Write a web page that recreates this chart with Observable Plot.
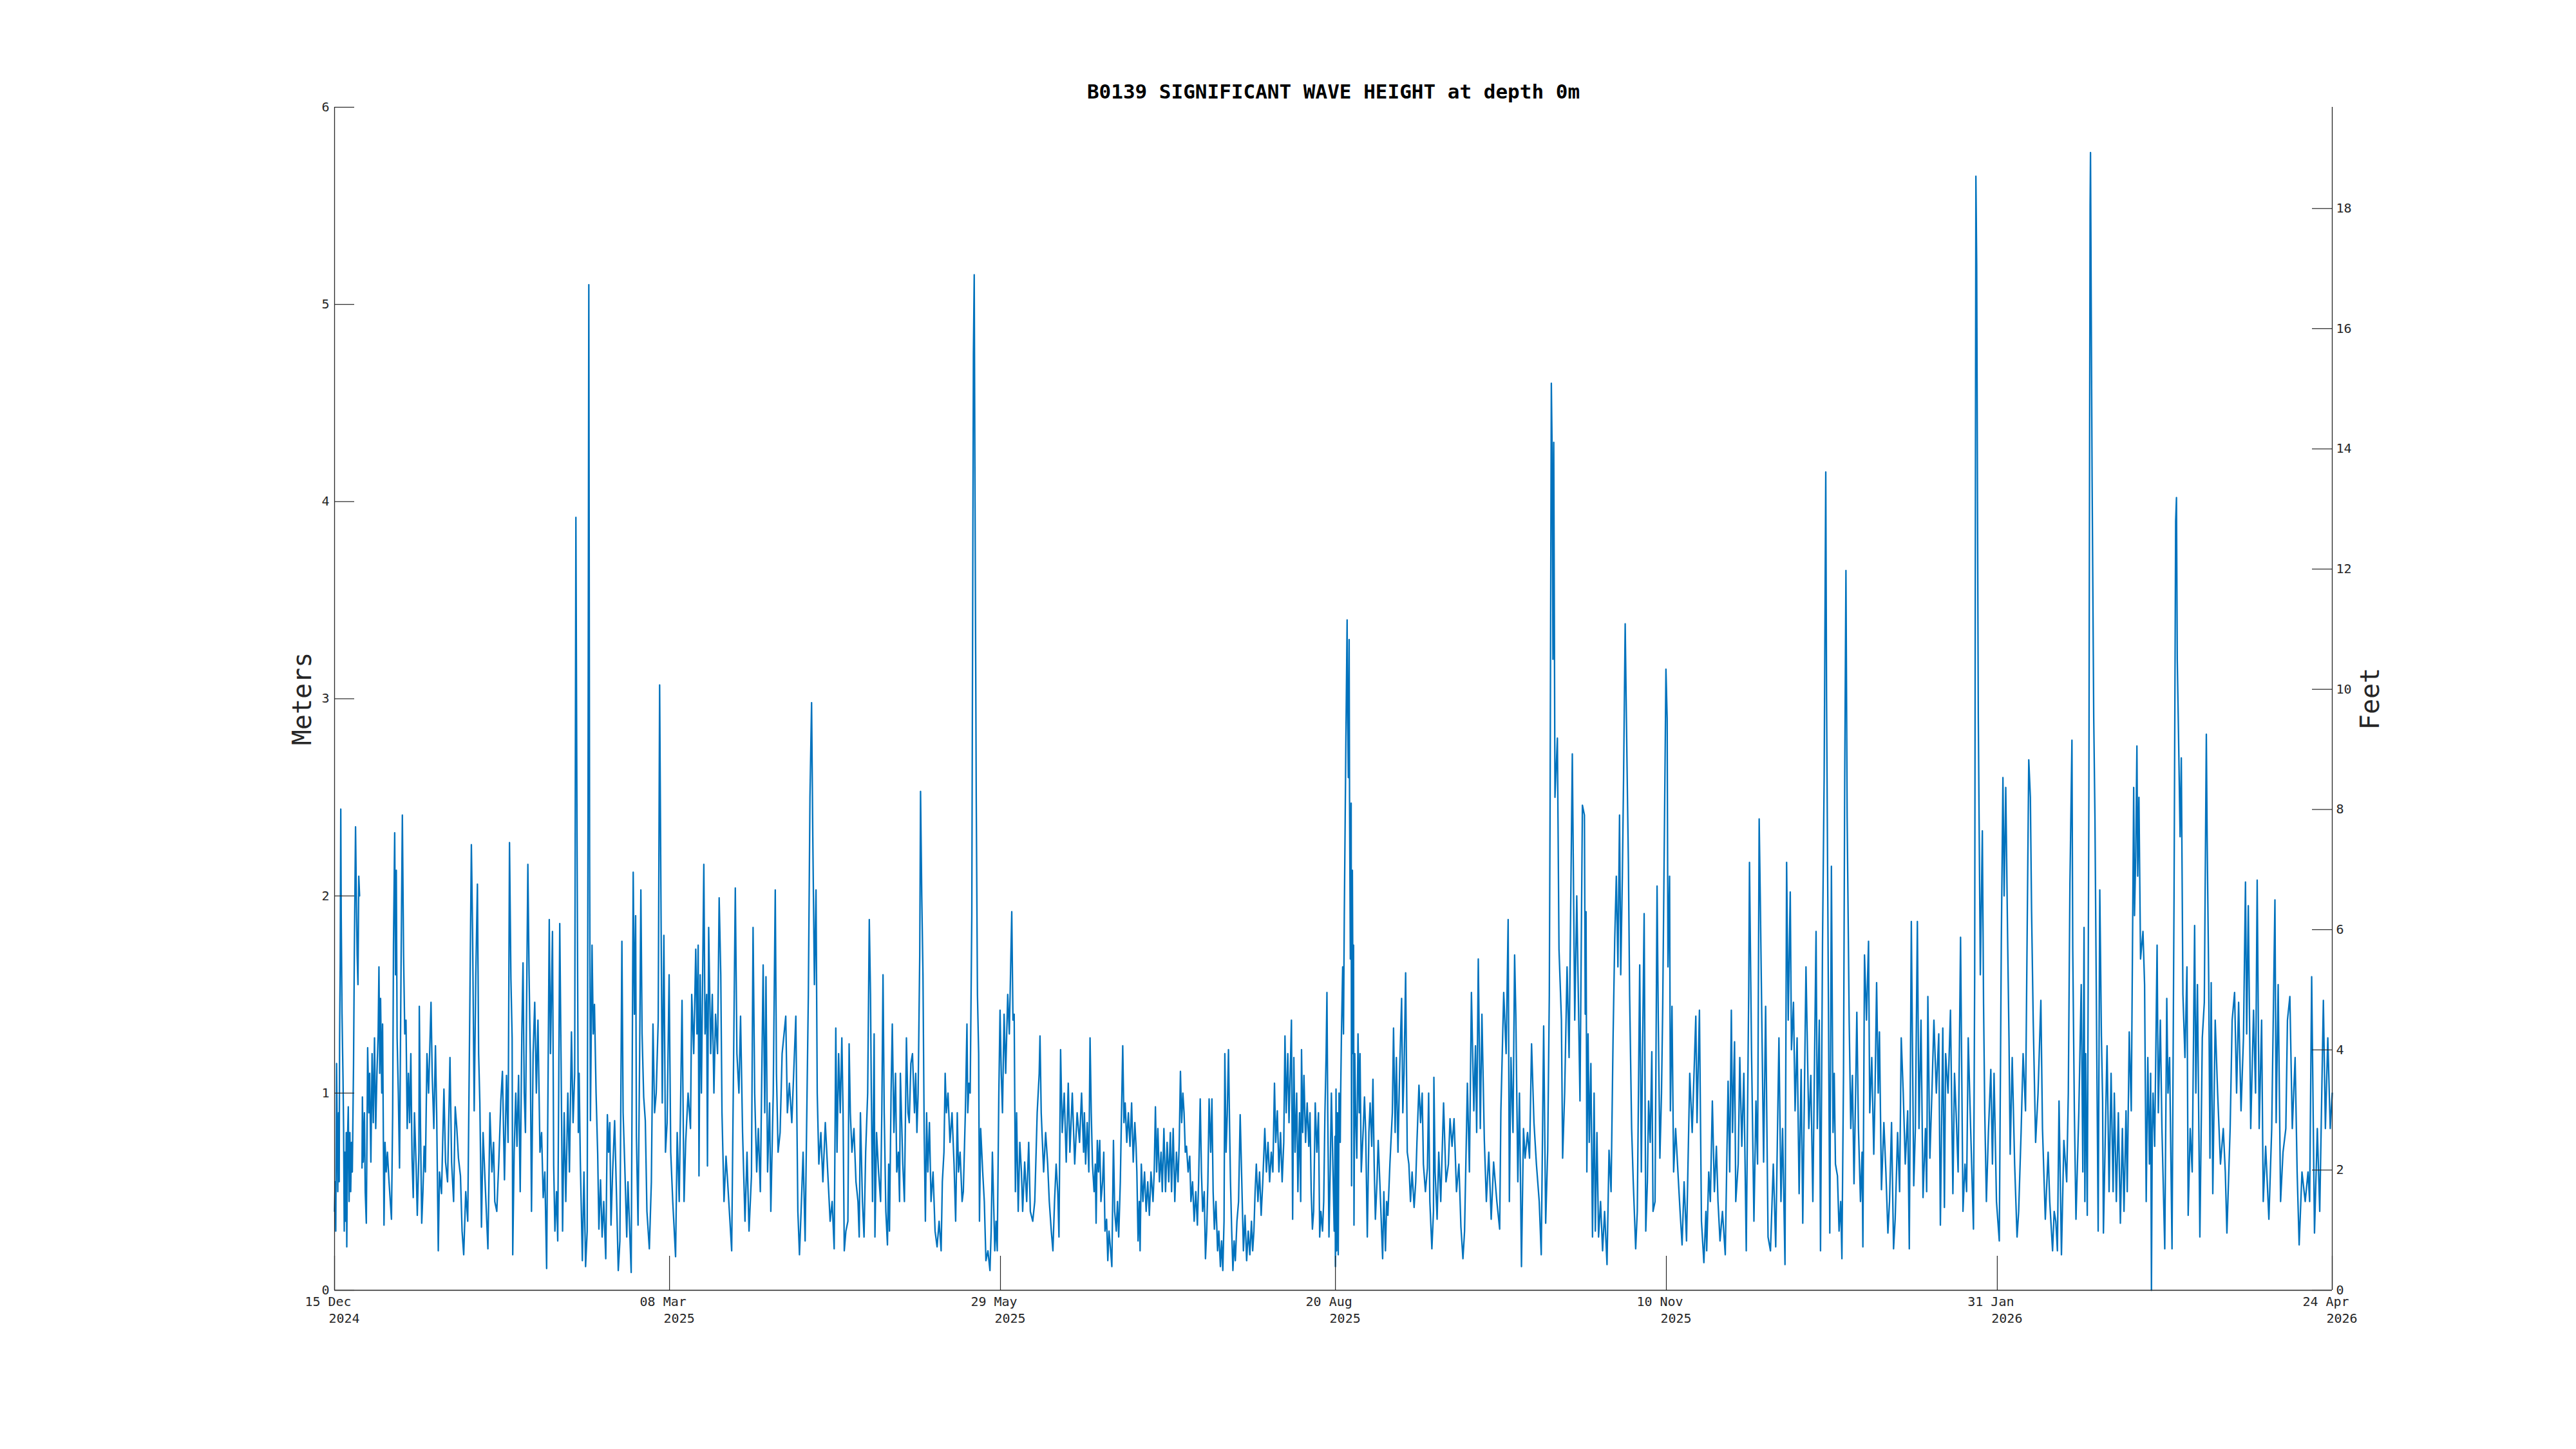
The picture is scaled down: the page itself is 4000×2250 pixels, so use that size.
<!DOCTYPE html>
<html><head><meta charset="utf-8">
<script src="https://cdn.jsdelivr.net/npm/d3@7"></script>
<script src="https://cdn.jsdelivr.net/npm/@observablehq/plot@0.6"></script>
<style>html,body{margin:0;padding:0;background:#fff;} svg{display:block}</style>
</head><body><div id="chart"></div>
<script>
const chartTitle = "B0139 SIGNIFICANT WAVE HEIGHT at depth 0m";
const leftLabel = "Meters";
const rightLabel = "Feet";
const startDate = "2024-12-15";
const endDate = "2026-04-24";
const xTickDates = ["2024-12-15","2025-03-08","2025-05-29","2025-08-20","2025-11-10","2026-01-31","2026-04-24"];
const meterTicks = [0,1,2,3,4,5,6];
const feetTicks = [0,2,4,6,8,10,12,14,16,18];
const metersPerFoot = 0.3048;
// [days since 15 Dec 2024, significant wave height (m)]
const hsSamples = [
[0,0.40],[0.15,0.55],[0.3,0.3],[0.5,1.15],[0.8,0.5],[1.0,0.9],[1.15,0.55],[1.25,1.26],[1.4,1.66],[1.54,2.44],[1.65,1.9],[1.85,1.4],[2.0,1.2],[2.1,1.07],[2.25,0.8],[2.4,0.3],[2.55,0.7],[2.7,0.35],[2.9,0.8],[3.03,0.22],[3.2,0.75],[3.4,0.93],[3.6,0.45],[3.8,0.8],[4.0,0.5],[4.2,0.75],[4.4,0.6],[4.7,1.14],[4.9,1.7],[5.2,2.35],[5.4,2.0],[5.6,1.7],[5.8,1.55],[6.0,2.1],[6.2,2.0],[6.5,NaN],
[6.8,0.62],[6.9,0.98],[7.1,0.65],[7.4,0.9],[7.6,0.5],[7.87,0.34],[8.2,1.23],[8.5,0.9],[8.7,1.1],[9.0,0.65],[9.3,1.2],[9.6,0.85],[9.9,1.28],[10.2,0.82],[10.5,1.1],[10.8,1.3],[11.0,1.64],[11.2,1.1],[11.4,1.48],[11.7,1.0],[11.9,1.35],[12.1,0.75],[12.25,0.33],[12.5,0.75],[12.8,0.6],[13.1,0.7],[13.5,0.55],[14.1,0.36],[14.4,0.9],[14.6,1.75],[14.9,2.32],[15.1,1.6],[15.3,2.13],[15.5,1.28],[15.8,1.0],[16.1,0.62],[16.5,1.7],[16.8,2.41],[17.1,1.7],[17.4,1.3],[17.7,1.37],[18.0,0.82],[18.3,1.1],[18.6,0.85],[18.9,1.2],[19.2,0.67],[19.5,0.47],[19.8,0.9],[20.2,0.64],[20.5,0.38],[20.9,0.7],[21.0,1.44],[21.3,0.82],[21.6,0.34],[21.9,0.5],[22.2,0.73],[22.5,0.6],[22.9,1.2],[23.3,1.0],[23.9,1.46],[24.2,1.09],[24.6,0.82],[25.0,1.24],[25.3,0.9],[25.7,0.2],[26.0,0.6],[26.5,0.49],[27.1,1.02],[27.5,0.65],[28.0,0.55],[28.6,1.18],[29.0,0.65],[29.5,0.45],[29.9,0.93],[30.3,0.82],[30.7,0.67],[31.2,0.58],[31.6,0.3],[32.0,0.18],[32.5,0.5],[33.0,0.35],[33.5,1.4],[33.9,2.26],[34.2,1.82],[34.6,0.91],[35.0,1.6],[35.4,2.06],[35.7,1.2],[36.0,0.95],[36.4,0.32],[36.8,0.8],[37.3,0.55],[38.0,0.21],[38.5,0.9],[39.0,0.6],[39.4,0.75],[39.7,0.45],[40.2,0.4],[40.7,0.65],[41.2,0.96],[41.6,1.11],[42.1,0.56],[42.6,1.09],[43.0,0.75],[43.35,2.27],[43.7,1.58],[44.0,1.28],[44.15,0.18],[44.5,0.7],[44.9,1.0],[45.2,0.73],[45.6,1.09],[46.0,0.5],[46.4,1.3],[46.7,1.66],[47.0,1.0],[47.3,0.8],[47.9,2.16],[48.2,1.6],[48.5,1.2],[48.8,0.4],[49.2,1.2],[49.6,1.46],[50.0,1.0],[50.4,1.37],[50.9,0.7],[51.3,0.8],[51.7,0.47],[52.1,0.6],[52.55,0.11],[53.2,1.88],[53.5,1.2],[54.0,1.82],[54.3,0.63],[54.6,0.3],[55.0,0.5],[55.3,0.25],[55.8,1.86],[56.2,1.0],[56.5,0.3],[56.9,0.9],[57.3,0.45],[57.8,1.0],[58.2,0.6],[58.7,1.31],[59.1,0.85],[59.5,1.1],[59.8,3.92],[60.1,2.2],[60.4,0.8],[60.6,1.1],[60.9,0.65],[61.4,0.15],[61.8,0.6],
[62.2,0.12],[62.6,0.3],[62.8,2.4],[63.0,5.1],[63.2,2.2],[63.4,0.86],[63.8,1.75],[64.1,1.3],[64.4,1.45],[64.8,1.0],[65.2,0.69],[65.5,0.31],[65.9,0.56],[66.3,0.27],[66.7,0.45],[67.2,0.16],[67.6,0.89],[67.9,0.7],[68.2,0.85],[68.5,0.33],[68.9,0.6],[69.4,0.86],[69.9,0.45],[70.3,0.1],[70.7,0.25],[71.2,1.77],[71.5,0.9],[71.9,0.64],[72.4,0.27],[72.7,0.55],[73.5,0.09],[74.0,2.12],[74.3,1.4],[74.6,1.9],[74.8,0.78],[75.2,0.33],[75.6,1.2],[75.9,2.03],[76.2,1.3],[76.6,0.98],[77.0,0.86],[77.4,0.4],[78.0,0.21],[78.5,0.55],[78.9,1.35],[79.3,0.9],[79.7,1.0],[80.2,1.37],[80.55,3.07],[80.9,1.9],[81.2,0.95],[81.6,1.8],[82.0,0.7],[82.4,0.85],[82.9,1.6],[83.3,0.7],[83.8,0.45],[84.5,0.17],[84.9,0.8],[85.4,0.45],[86.1,1.47],[86.6,0.45],[87.0,0.75],[87.6,1.0],[88.2,0.82],[88.5,1.5],[89.0,1.2],[89.5,1.73],[89.8,1.3],[90.1,1.75],[90.3,0.58],[90.6,1.6],[90.9,1.0],[91.5,2.16],[91.8,1.3],[92.2,1.5],[92.4,0.63],[92.7,1.84],[93.2,1.2],[93.6,1.5],[94.0,1.0],[94.4,1.4],[94.9,1.2],[95.3,1.99],[95.7,1.6],[96.0,0.9],[96.5,0.45],[97.0,0.68],[97.4,0.55],[98.4,0.2],[99.3,2.04],[99.7,1.2],[100.2,1.0],[100.6,1.39],[101.1,0.8],[101.7,0.35],[102.2,0.7],[102.7,0.3],[103.3,0.58],[103.7,1.84],[104.1,1.0],[104.6,0.6],[105.0,0.82],[105.5,0.5],[106.2,1.65],[106.6,0.9],[106.9,1.59],[107.3,0.6],[107.8,0.95],[108.1,0.4],[108.7,1.0],[109.2,2.03],[109.5,1.1],[109.9,0.7],[110.4,0.8],[110.9,1.2],[111.8,1.39],[112.2,0.9],[112.7,1.05],[113.3,0.85],[114.3,1.39],[114.8,0.4],[115.2,0.18],[115.6,0.4],[116.1,0.7],[116.6,0.25],[117.4,1.5],[117.8,2.5],[118.2,2.98],[118.5,2.3],[118.9,1.55],[119.3,2.03],[119.6,1.0],[120.0,0.64],[120.5,0.8],[121.0,0.55],[121.6,0.85],[122.2,0.6],[122.8,0.35],[123.3,0.45],[123.8,0.21],
[124.2,1.33],[124.5,0.7],[124.9,1.2],[125.3,0.9],[125.7,1.28],[126.0,0.9],[126.3,0.2],[126.7,0.3],[127.2,0.35],[127.5,1.25],[127.8,0.9],[128.2,0.7],[128.7,0.82],[129.2,0.55],[129.7,0.45],[130.0,0.27],[130.3,0.9],[130.8,0.45],[131.2,0.27],[131.6,0.7],[132.1,1.0],[132.5,1.88],[132.8,1.5],[133.0,1.0],[133.3,0.45],[133.7,1.3],[133.9,0.27],[134.3,0.8],[134.8,0.6],[135.3,0.45],[135.6,0.9],[135.9,1.6],[136.2,0.9],[136.6,0.4],[137.0,0.23],[137.3,0.64],[137.5,0.3],[137.9,1.0],[138.2,1.35],[138.6,0.8],[139.0,1.1],[139.3,0.6],[139.7,0.7],[140.0,0.45],[140.2,1.1],[140.8,0.64],[141.2,0.45],[141.7,1.28],[142.1,0.9],[142.4,0.85],[142.8,1.15],[143.2,1.2],[143.7,0.9],[144.0,1.1],[144.3,0.8],[144.6,1.0],[145.0,1.7],[145.2,2.53],[145.5,2.0],[145.8,1.6],[146.1,0.8],[146.4,0.35],[146.7,0.9],[147.0,0.6],[147.4,0.85],[147.8,0.45],[148.3,0.6],[148.8,0.3],[149.3,0.22],[149.8,0.35],[150.3,0.2],[150.6,0.55],[151.0,0.7],[151.3,1.1],[151.6,0.9],[152.0,1.0],[152.5,0.75],[153.0,0.9],[153.5,0.64],[153.9,0.35],[154.3,0.9],[154.6,0.6],[155.0,0.7],[155.5,0.45],[155.8,0.5],[156.3,0.9],[156.7,1.35],[156.9,0.9],[157.2,1.05],[157.5,1.0],[157.9,1.9],[158.3,4.75],[158.5,5.15],[158.7,4.0],[159.0,2.5],[159.3,1.5],[159.6,1.2],[159.8,0.35],[160.1,0.82],[160.6,0.6],[161.0,0.45],[161.4,0.15],[161.9,0.2],[162.4,0.1],[162.7,0.3],[163.0,0.7],[163.3,0.45],[163.6,0.2],[163.9,0.35],[164.2,0.2],[164.6,1.0],[164.9,1.42],[165.2,1.1],[165.5,0.9],[165.9,1.4],[166.3,1.1],[166.8,1.5],[167.2,1.3],[167.8,1.92],[168.1,1.37],[168.4,1.4],[168.7,0.5],[169.0,0.9],[169.4,0.4],[169.8,0.75],[170.2,0.6],[170.5,0.4],[171.0,0.65],[171.5,0.45],[172.0,0.75],[172.4,0.4],[173.0,0.35],[173.5,0.45],[174.1,0.9],[174.6,1.1],[174.8,1.29],[175.1,0.9],[175.7,0.6],[176.2,0.8],[176.7,0.64],[177.1,0.45],[177.6,0.3],[178.0,0.2],[178.4,0.45],[178.8,0.64],[179.2,0.5],[179.5,0.27],[179.9,1.22],[180.3,0.8],[180.8,1.0],[181.3,0.65],[181.8,1.05],[182.2,0.7],[182.8,1.0],[183.4,0.64],[184.0,0.9],[184.6,0.75],[185.1,1.0],[185.6,0.7],
[185.8,0.9],[186.1,0.64],[186.5,0.85],[186.9,0.6],[187.2,1.28],[187.5,0.9],[187.8,0.64],[188.2,0.5],[188.5,0.64],[188.7,0.34],[189.0,0.76],[189.3,0.6],[189.6,0.76],[189.9,0.45],[190.3,0.55],[190.6,0.7],[190.9,0.3],[191.3,0.36],[191.6,0.15],[191.9,0.3],[192.3,0.2],[192.6,0.12],[193.0,0.76],[193.3,0.4],[193.7,0.3],[194.0,0.45],[194.3,0.27],[194.7,0.55],[195.0,0.9],[195.3,1.24],[195.6,0.85],[195.9,0.95],[196.3,0.75],[196.7,0.9],[197.1,0.73],[197.5,0.95],[197.9,0.65],[198.3,0.85],[198.6,0.73],[198.8,0.6],[199.1,0.25],[199.4,0.45],[199.6,0.2],[199.9,0.64],[200.3,0.45],[200.7,0.6],[201.1,0.4],[201.5,0.55],[201.9,0.38],[202.3,0.6],[202.8,0.45],[203.1,0.6],[203.4,0.93],[203.7,0.6],[204.0,0.82],[204.4,0.55],[204.8,0.7],[205.1,0.5],[205.5,0.82],[205.9,0.5],[206.3,0.75],[206.7,0.55],[207.1,0.8],[207.4,0.5],[207.8,0.82],[208.2,0.45],[208.6,0.7],[209.0,0.55],[209.3,0.75],[209.6,1.11],[209.9,0.85],[210.2,1.0],[210.5,0.9],[210.8,0.7],[211.1,0.73],[211.5,0.6],[211.9,0.68],[212.2,0.45],[212.6,0.55],[213.0,0.35],[213.4,0.5],[213.8,0.33],[214.1,0.55],[214.5,0.97],[214.8,0.6],[215.1,0.4],[215.5,0.5],[215.8,0.16],[216.1,0.3],[216.4,0.55],[216.7,0.97],[217.1,0.7],[217.4,0.97],[217.7,0.5],[218.0,0.31],[218.4,0.45],[218.8,0.2],[219.1,0.3],[219.5,0.12],[219.8,0.25],[220.1,0.1],[220.4,0.35],[220.6,1.2],[220.9,0.7],[221.2,0.89],[221.5,1.22],[221.8,0.8],[222.0,0.55],[222.3,0.3],[222.6,0.1],[222.9,0.25],[223.2,0.15],[223.6,0.35],[224.0,0.45],[224.4,0.89],[224.8,0.55],[225.2,0.2],[225.6,0.38],[226.0,0.15],[226.4,0.3],[226.8,0.18],[227.2,0.35],[227.5,0.2],[227.8,0.3],[228.1,0.5],[228.4,0.64],[228.8,0.45],[229.2,0.6],[229.6,0.38],[230.0,0.55],[230.5,0.82],[230.9,0.6],[231.3,0.75],[231.7,0.55],[232.1,0.7],[232.5,0.6],[232.9,1.05],[233.2,0.75],[233.6,0.91],[234.0,0.6],[234.4,0.8],[234.8,0.55],[235.2,0.75],[235.5,1.29],[235.8,0.9],[236.2,1.2],[236.5,0.85],[236.8,1.1],[237.1,1.37],[237.4,0.36],[237.7,1.18],[238.0,0.7],[238.4,1.0],[238.7,0.5],[239.1,0.9],[239.4,0.45],[239.6,1.22],[239.9,0.8],[240.2,1.09],[240.6,0.75],[241.0,0.95],[241.4,0.73],[241.7,0.9],[242.0,0.5],[242.3,0.31],[242.6,0.4],[243.0,0.95],[243.4,0.7],[243.8,0.9],[244.1,0.27],[244.4,0.4],[244.8,0.3],[245.1,0.45],[245.4,0.9],[245.7,1.2],[245.9,1.51],[246.1,0.9],[246.4,0.27],[246.7,0.6],[247.0,1.0],[247.4,0.6],
[247.7,0.3],[247.9,0.78],[248.0,0.12],[248.15,1.02],[248.3,0.2],[248.5,0.9],[248.7,0.18],[248.9,1.0],[249.2,0.75],[249.3,1.0],[249.5,1.31],[249.8,1.64],[250.0,1.3],[250.2,1.9],[250.6,2.8],[250.9,3.4],[251.0,3.0],[251.2,2.6],[251.4,3.3],[251.5,2.5],[251.7,1.68],[251.9,2.47],[252.0,0.53],[252.2,2.13],[252.4,1.2],[252.5,1.75],[252.6,0.33],[252.8,1.2],[253.0,0.9],[253.3,0.67],[253.6,1.3],[253.9,0.9],[254.1,1.2],[254.4,0.6],[254.9,0.82],[255.2,0.98],[255.5,0.8],[255.9,0.27],[256.3,0.8],[256.6,0.95],[257.0,0.73],[257.3,1.07],[257.6,0.64],[257.9,0.36],[258.3,0.55],[258.6,0.76],[259.0,0.55],[259.7,0.16],[260.0,0.5],[260.4,0.2],[260.7,0.45],[261.0,0.38],[261.5,0.64],[262.1,0.9],[262.4,1.33],[262.8,0.8],[263.1,1.18],[263.5,0.7],[263.9,1.1],[264.4,1.48],[264.7,0.9],[265.0,1.1],[265.4,1.61],[265.8,0.7],[266.2,0.64],[266.6,0.45],[267.0,0.6],[267.5,0.42],[267.9,0.55],[268.2,0.75],[268.7,1.04],[269.1,0.85],[269.5,1.0],[269.8,0.64],[270.3,0.5],[270.8,0.62],[271.1,1.0],[271.4,0.45],[271.9,0.21],[272.3,0.4],[272.4,1.08],[272.7,0.6],[273.2,0.36],[273.6,0.7],[274.1,0.45],[274.8,0.95],[275.4,0.55],[276.0,0.64],[276.4,0.87],[276.9,0.73],[277.4,0.87],[278.0,0.5],[278.6,0.64],[279.1,0.32],[279.6,0.16],[280.0,0.3],[280.7,1.05],[281.2,0.6],[281.7,1.51],[282.3,0.91],[282.7,1.24],[283.0,0.8],[283.4,1.68],[283.9,0.82],[284.3,1.4],[284.9,0.76],[285.4,0.45],[286.0,0.7],[286.6,0.36],[287.2,0.65],[288.0,0.45],[288.7,0.31],[289.0,0.91],[289.7,1.51],[290.3,1.2],[290.8,1.88],[291.1,0.45],[291.5,1.18],[292.0,0.8],[292.4,1.7],[292.7,1.4],[293.2,0.55],[293.6,1.0],[294.1,0.12],[294.6,0.82],[295.0,0.67],[295.6,0.8],[296.1,0.67],[296.6,1.25],[297.2,0.85],[297.8,0.64],[298.5,0.45],[299.0,0.18],[299.6,1.34],[300.1,0.34],[300.6,0.71],[301.0,1.5],[301.2,2.5],[301.5,4.6],[301.7,4.25],[301.9,3.2],[302.1,4.3],[302.4,2.5],[303.0,2.8],[303.4,1.73],[304.0,1.37],[304.3,0.67],[304.8,1.0],[305.4,1.64],[305.9,1.18],[306.7,2.72],[307.3,1.37],[307.8,2.0],[308.6,0.96],[309.2,2.46],
[309.7,2.41],[309.9,1.4],[310.1,1.92],[310.3,0.6],[310.6,1.3],[310.9,0.75],[311.3,1.15],[311.7,0.27],[312.1,1.0],[312.4,0.3],[312.8,0.8],[313.2,0.27],[313.7,0.45],[314.2,0.2],[314.7,0.4],[315.3,0.13],[315.8,0.71],[316.3,0.5],[316.8,1.28],[317.2,1.77],[317.6,2.1],[318.0,1.64],[318.4,2.41],[318.7,1.6],[319.1,2.1],[319.4,2.6],[319.8,3.38],[320.1,2.9],[320.6,2.16],[320.9,1.5],[321.4,0.82],[321.8,0.55],[322.4,0.21],[322.8,0.4],[323.4,1.65],[323.8,0.6],[324.1,1.2],[324.5,1.91],[324.9,0.3],[325.3,0.55],[325.6,0.96],[326.0,0.75],[326.4,1.21],[326.7,0.4],[327.2,0.45],[327.7,2.05],[328.0,1.37],[328.4,0.67],[328.8,1.0],[329.1,1.44],[329.6,2.5],[329.9,3.15],[330.2,2.9],[330.4,1.64],[330.8,2.1],[331.0,0.91],[331.4,1.44],[331.8,0.6],[332.3,0.82],[333.0,0.55],[333.4,0.4],[333.9,0.23],[334.4,0.55],[335.0,0.25],[335.8,1.1],[336.4,0.8],[337.3,1.39],[337.6,0.85],[338.2,1.42],[338.7,0.35],[339.3,0.14],[339.8,0.4],[340.0,0.2],[340.5,0.6],[340.9,0.45],[341.4,0.96],[341.9,0.5],[342.4,0.73],[342.8,0.45],[343.3,0.25],[343.9,0.4],[344.6,0.18],[345.3,1.06],[345.7,0.6],[346.1,1.42],[346.4,0.8],[346.9,1.26],[347.2,0.45],[347.8,0.64],[348.2,1.18],[348.7,0.73],[349.2,1.1],[349.8,0.2],[350.4,1.5],[350.6,2.17],[351.1,1.22],[351.7,0.35],[352.2,0.96],[352.6,0.64],[353.0,2.39],[353.3,1.95],[353.7,1.3],[354.1,0.65],[354.6,1.44],[355.2,0.27],[355.8,0.2],[356.5,0.64],[357.1,0.22],[357.9,1.28],[358.4,0.45],[358.8,0.82],[359.4,0.13],[359.8,2.17],[360.2,1.37],[360.7,2.02],[361.0,1.22],[361.5,1.46],[361.9,0.91],[362.4,1.28],[362.9,0.49],[363.4,1.12],[363.8,0.34],[364.6,1.64],[365.3,0.82],[365.8,1.09],[366.3,0.45],[367.1,1.82],[367.4,0.82],[367.9,1.37],[368.2,0.2],[368.7,1.77],[369.1,2.6],[369.5,4.15],[369.7,3.0],[370.0,2.0],[370.5,0.29],[370.9,2.15],[371.3,0.8],
[371.6,1.1],[371.9,0.64],[372.4,0.58],[372.8,0.3],[373.2,0.45],[373.5,0.16],[373.9,1.1],[374.2,2.6],[374.5,3.65],[374.8,2.4],[375.3,1.37],[375.7,0.82],[376.1,1.09],[376.5,0.54],[376.9,1.0],[377.2,1.41],[377.6,0.82],[378.1,0.45],[378.5,0.7],[378.7,0.22],[379.1,1.7],[379.6,1.37],[380.1,1.77],[380.4,0.9],[380.9,1.18],[381.4,0.69],[381.7,1.0],[382.1,1.56],[382.5,1.0],[382.8,1.31],[383.3,0.51],[383.9,0.85],[384.4,0.6],[384.9,0.29],[385.3,0.45],[385.8,0.85],[386.3,0.21],[386.7,0.36],[387.3,0.8],[387.8,0.5],[388.2,1.28],[388.7,1.0],[389.2,0.64],[389.8,0.91],[390.2,0.21],[390.7,1.87],[391.3,0.53],[391.7,0.82],[392.2,1.87],[392.6,0.82],[393.1,1.37],[393.6,0.47],[394.2,0.82],[394.5,0.5],[394.8,1.49],[395.3,0.67],[395.8,1.0],[396.3,1.37],[396.9,1.0],[397.5,1.3],[397.9,0.33],[398.5,1.33],[398.9,0.42],[399.2,1.2],[399.8,1.0],[400.4,1.42],[401.0,0.49],[401.4,1.1],[401.8,0.9],[402.3,0.6],[402.9,1.79],[403.5,0.4],[404.0,0.64],[404.4,0.5],[404.8,1.28],[405.4,0.82],[406.1,0.31],[406.4,1.6],[406.7,5.65],[406.9,5.2],[407.1,4.0],[407.3,2.9],[407.8,1.6],[408.3,2.33],[408.6,1.45],[408.9,0.9],[409.3,0.45],[409.8,0.8],[410.4,1.12],[410.8,0.64],[411.2,1.1],[411.8,0.45],[412.5,0.25],[413.0,1.77],[413.4,2.6],[413.7,2.0],[414.1,2.55],[414.6,1.73],[414.9,1.28],[415.2,0.69],[415.7,1.18],[416.3,0.64],[416.9,0.27],[417.3,0.4],[417.9,0.8],[418.4,1.2],[419.0,0.91],[419.8,2.69],[420.2,2.5],[420.5,1.92],[420.9,1.37],[421.5,0.75],[422.1,1.0],[422.8,1.47],[423.2,0.82],[423.9,0.36],[424.6,0.7],[425.0,0.45],[425.7,0.2],[426.1,0.4],[426.5,0.35],[426.9,0.2],[427.3,0.96],[427.9,0.18],[428.5,0.76],[429.2,0.55],[429.6,1.0],[430.0,2.06],[430.5,2.79],[430.7,1.73],[431.1,0.91],[431.5,0.36],[432.2,0.9],[432.8,1.55],[433.2,0.6],
[433.5,1.84],[433.7,0.45],[433.9,1.2],[434.3,0.38],[434.7,2.5],[435.0,5.5],[435.1,5.77],[435.3,4.9],[435.5,4.1],[435.9,2.9],[436.2,2.4],[437.0,0.3],[437.4,2.03],[437.8,1.29],[438.1,0.96],[438.3,0.29],[438.8,0.82],[439.2,1.24],[439.7,0.5],[440.2,1.1],[440.7,0.5],[441.0,1.0],[441.5,0.45],[442.0,0.9],[442.5,0.34],[443.0,0.82],[443.4,0.4],[443.9,0.91],[444.2,0.5],[444.7,1.31],[445.2,0.91],[445.5,1.73],[445.8,2.55],[446.0,1.9],[446.3,2.2],[446.6,2.76],[446.8,2.1],[447.1,2.5],[447.5,1.68],[448.1,1.82],[448.5,1.55],[448.9,0.45],[449.3,1.18],[449.7,0.64],[450.0,1.1],[450.2,0.0],[450.4,0.8],[450.6,1.0],[451.0,0.73],[451.6,1.75],[451.9,0.9],[452.4,1.37],[452.8,0.82],[453.5,0.21],[454.0,1.48],[454.3,1.0],[454.7,1.18],[455.3,0.21],[455.8,2.0],[456.2,3.9],[456.4,4.02],[456.6,3.2],[456.9,2.83],[457.3,2.3],[457.6,2.7],[458.0,1.5],[458.5,1.18],[459.0,1.64],[459.3,0.38],[459.8,0.82],[460.3,0.6],[460.9,1.85],[461.2,1.0],[461.6,1.55],[462.2,0.27],[462.8,1.28],[463.3,1.46],[463.8,2.82],[464.0,2.3],[464.4,1.55],[464.7,0.67],[465.0,1.56],[465.4,0.49],[466.0,1.37],[466.6,1.0],[467.3,0.64],[468.0,0.82],[468.5,0.6],[468.9,0.29],[469.7,0.82],[470.2,1.37],[470.8,1.51],[471.3,1.0],[471.8,1.46],[472.4,0.91],[473.0,1.28],[473.5,2.07],[473.8,1.3],[474.2,1.95],[474.8,0.82],[475.5,1.42],[476.0,1.0],[476.4,2.08],[476.9,0.82],[477.5,1.37],[477.9,0.45],[478.5,0.73],[479.3,0.36],[480.0,0.82],[480.8,1.98],[481.1,0.85],[481.6,1.55],[482.2,0.45],[482.8,0.7],[483.5,0.82],[483.9,1.37],[484.5,1.49],[485.1,0.82],[485.8,1.18],[486.3,0.6],[486.8,0.23],[487.5,0.6],[488.3,0.45],[489.0,0.6],[489.4,0.45],[489.9,1.59],[490.6,0.29],[491.3,0.82],[491.9,0.4],[492.8,1.47],[493.3,0.82],[493.9,1.28],[494.5,0.82],[495.0,1.0]
];

const DAY = 86400000;
const t0 = new Date(startDate + "T00:00:00Z");
const tEnd = new Date(endDate + "T00:00:00Z");
const xTicks = xTickDates.map(s => new Date(s + "T00:00:00Z"));
const data = hsSamples.map(([d, h]) => ({date: new Date(+t0 + d * DAY), hs: h}));
const feetTicksM = feetTicks.map(f => f * metersPerFoot);

const W = 4000, H = 2250, ML = 519, MR = 379, MT = 166, MB = 247;
const FW = W - ML - MR, FH = H - MT - MB;
const axisColor = "#262626";
const mono = "DejaVu Sans Mono";
const fmtDay = d3.utcFormat("%d %b");
const fmtYear = d3.utcFormat("%Y");

const chart = Plot.plot({
  width: W, height: H,
  marginLeft: ML, marginRight: MR, marginTop: MT, marginBottom: MB,
  style: {fontFamily: mono, fontSize: "20px", background: "white", color: axisColor},
  x: {type: "utc", domain: [t0, tEnd]},
  y: {domain: [0, 6]},
  marks: [
    Plot.line(data, {x: "date", y: "hs", stroke: "#0072BD", strokeWidth: 2.3}),
    Plot.ruleY([0], {stroke: axisColor, strokeWidth: 1.3}),
    Plot.ruleX([t0], {stroke: axisColor, strokeWidth: 1.3}),
    Plot.ruleX([tEnd], {stroke: axisColor, strokeWidth: 1.3}),
    Plot.tickY(meterTicks, {y: d => d, stroke: axisColor, strokeWidth: 1.2, insetRight: FW - 31}),
    Plot.tickY(feetTicksM, {y: d => d, stroke: axisColor, strokeWidth: 1.2, insetLeft: FW - 31}),
    Plot.tickX(xTicks, {x: d => d, stroke: axisColor, strokeWidth: 1.2, insetTop: FH - 53}),
    Plot.axisY(meterTicks, {anchor: "left", tickSize: 0, tickPadding: 8, label: null, fontSize: 20, fill: axisColor, tickFormat: d => String(d)}),
    Plot.axisY(feetTicksM, {anchor: "right", tickSize: 0, tickPadding: 6, label: null, fontSize: 20, fill: axisColor, tickFormat: d => String(Math.round(d / metersPerFoot))}),
    Plot.axisX(xTicks, {anchor: "bottom", tickSize: 0, tickPadding: 10, label: null, fontSize: 20, fill: axisColor, dx: -10, tickFormat: fmtDay}),
    Plot.axisX(xTicks, {anchor: "bottom", tickSize: 0, tickPadding: 36, label: null, fontSize: 20, fill: axisColor, dx: 15, tickFormat: fmtYear}),
    Plot.text([chartTitle], {text: d => d, frameAnchor: "top", dy: -14, lineAnchor: "bottom", fontSize: 31, fontWeight: "bold", fill: "#000"}),
    Plot.text([leftLabel], {text: d => d, frameAnchor: "left", textAnchor: "middle", dx: -49, rotate: -90, fontSize: 40, fill: axisColor}),
    Plot.text([rightLabel], {text: d => d, frameAnchor: "right", textAnchor: "middle", dx: 60, rotate: -90, fontSize: 40, fill: axisColor})
  ]
});
document.getElementById("chart").appendChild(chart);
</script>
</body></html>
